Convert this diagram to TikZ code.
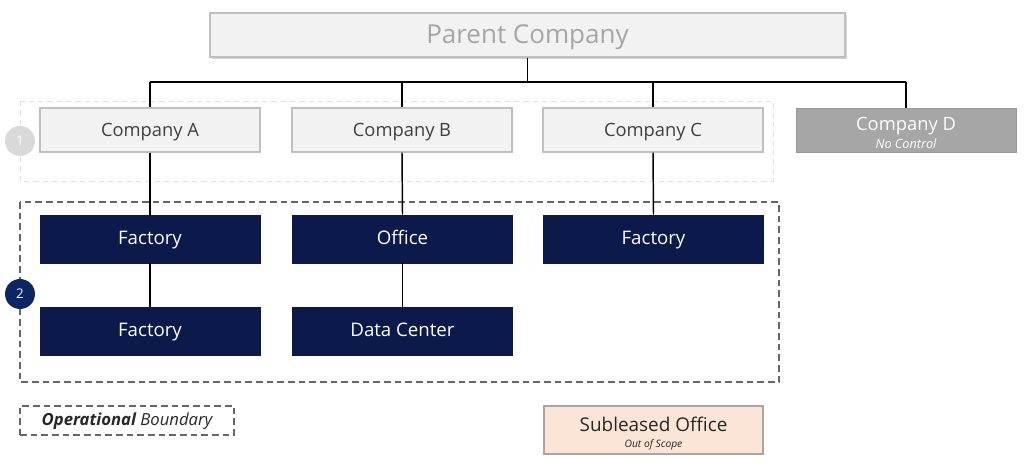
\documentclass[tikz,border=0pt]{standalone}
\usepackage{fontspec}
\setmainfont{Open Sans}
\usetikzlibrary{shadows}
\definecolor{navy}{HTML}{0C1A4B}
\definecolor{lgray}{HTML}{F2F2F2}
\definecolor{bgray}{HTML}{BFBFBF}
\definecolor{dgray}{HTML}{A6A6A6}
\definecolor{peach}{HTML}{FBE5D6}
\definecolor{navycirc}{HTML}{0E2563}
\tikzset{
  box/.style={draw=bgray, line width=0.8pt, fill=lgray, text=black!75, font=\fontsize{13.75}{15}\selectfont, text height=1.95ex, text depth=0.2ex},
  darkbox/.style={fill=navy, draw=navy, text=white, font=\fontsize{14}{15}\selectfont, text height=1.8ex, text depth=0.15ex},
  conn/.style={line width=1.1pt, black},
  badge/.style={circle, minimum size=22.5pt, inner sep=0pt, font=\fontsize{10}{12}\selectfont, text=white},
}
\begin{document}
\begin{tikzpicture}[x=0.75pt,y=-0.75pt]
\useasboundingbox (0,0) rectangle (1024,470);
% boundaries
\draw[dashed, draw=black!12, line width=0.6pt, dash pattern=on 4pt off 3pt] (20,101) rectangle (773,181);
\draw[dashed, draw=black!60, line width=1pt, dash pattern=on 5pt off 3pt] (20,202) rectangle (779,382);
% parent
\node[box, drop shadow={shadow xshift=1.2pt, shadow yshift=-1.2pt, opacity=0.35}, minimum width=476.25pt, minimum height=33pt, text=dgray, font=\fontsize{19.5}{22}\selectfont, text height=2.55ex, text depth=0.1ex, inner ysep=0pt] (parent) at (527.5,35) {Parent Company};
% companies
\node[box, minimum width=165pt, minimum height=33pt] (ca) at (150,130) {Company A};
\node[box, minimum width=165pt, minimum height=33pt] (cb) at (402,130) {Company B};
\node[box, minimum width=165pt, minimum height=33pt] (cc) at (653,130) {Company C};
\node[fill=dgray, draw=black!40, line width=0.6pt, minimum width=165pt, minimum height=33pt, text=white, inner sep=0pt] (cd) at (906,130) {\raisebox{-4pt}[\height][\depth]{\begin{tabular}{@{}c@{}}{\fontsize{13.75}{14}\selectfont Company D}\\[2pt]{\fontsize{9.5}{10}\selectfont\itshape No Control}\end{tabular}}};
% dark boxes
\node[darkbox, minimum width=165pt, minimum height=36pt] (fa) at (150,239) {Factory};
\node[darkbox, minimum width=165pt, minimum height=36pt] (of) at (402.5,239) {Office};
\node[darkbox, minimum width=165pt, minimum height=36pt] (fc) at (653.5,239) {Factory};
\node[darkbox, minimum width=165pt, minimum height=36pt] (fa2) at (150,331) {Factory};
\node[darkbox, minimum width=165pt, minimum height=36pt] (dc) at (402.5,331) {Data Center};
% badges
\node[badge, fill=black!15] (b1) at (20,141) {1};
\node[badge, fill=navycirc] (b2) at (20,294) {2};
% connectors
\coordinate (jp) at (527.5,82);
\coordinate (ja) at (150,82);
\coordinate (jd) at (906,82);
\draw[conn] (parent.south) -- (jp);
\draw[conn] (ja) -- (jd);
\draw[conn] (ja) -- (ca.north);
\draw[conn] (cb.north |- jp) -- (cb.north);
\draw[conn] (cc.north |- jp) -- (cc.north);
\draw[conn] (jd) -- (cd.north);
\draw[conn] (ca.south) -- (fa.north);
\draw[conn] (cb.south) -- (of.north);
\draw[conn] (cc.south) -- (fc.north);
\draw[conn] (fa.south) -- (fa2.north);
\draw[conn] (of.south) -- (dc.north);
% legend
\node[draw=black!60, dashed, line width=1pt, dash pattern=on 5pt off 3pt, minimum width=160.5pt, minimum height=21.75pt, font=\fontsize{12.5}{14}\selectfont\itshape, text=black!85, text height=1.75ex, text depth=0.3ex, inner ysep=0pt] (leg) at (127,420.5) {\textbf{Operational} Boundary};
\node[fill=peach, draw=black!35, line width=0.8pt, minimum width=164.25pt, minimum height=36pt, inner sep=0pt, text=black!85] (sub) at (653.5,430) {\raisebox{-3.5pt}[\height][\depth]{\begin{tabular}{@{}c@{}}{\fontsize{14.2}{15}\selectfont Subleased Office}\\[-0.5pt]{\fontsize{7.7}{9}\selectfont\itshape Out of Scope}\end{tabular}}};
\end{tikzpicture}
\end{document}
